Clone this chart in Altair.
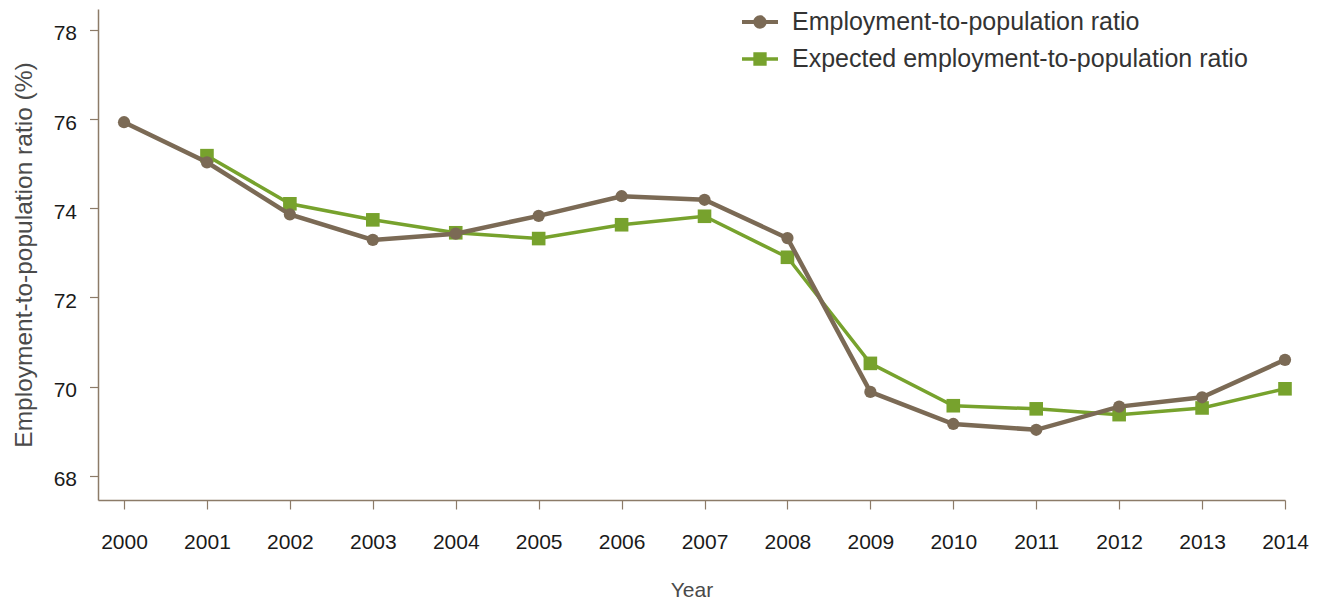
import altair as alt
import pandas as pd

years = list(range(2000, 2015))
employment = [75.93, 75.03, 73.86, 73.29, 73.43, 73.83, 74.27, 74.19, 73.33,
              69.88, 69.16, 69.03, 69.55, 69.76, 70.60]
expected = [None, 75.18, 74.10, 73.74, 73.45, 73.32, 73.63, 73.82, 72.90,
            70.52, 69.57, 69.50, 69.37, 69.52, 69.95]
series_names = ["Employment-to-population ratio",
                "Expected employment-to-population ratio"]
y_ticks = [68, 70, 72, 74, 76, 78]

BROWN = "#7B6A55"
GREEN = "#77A22D"
AXIS = "#8C7B68"
FONT = "Liberation Sans"

rows = []
for y, e, x in zip(years, employment, expected):
    rows.append({"year": y, "series": series_names[0], "value": e})
    if x is not None:
        rows.append({"year": y, "series": series_names[1], "value": x})
df = pd.DataFrame(rows)

x_enc = alt.X(
    "year:Q",
    scale=alt.Scale(domain=[1999.686, 2014], nice=False, zero=False),
    axis=alt.Axis(
        values=years, format="d", grid=False,
        tickSize=9, tickWidth=1.2, tickColor=AXIS,
        domainColor=AXIS, domainWidth=1.5,
        labelFont=FONT, labelFontSize=21, labelColor="#1a1a1a",
        labelPadding=22, labelFlush=False, labelOverlap=False, labelBound=False,
        title="Year", titleFont=FONT, titleFontSize=21, titleFontWeight="normal",
        titleColor="#4a4a4a", titleX=593.5, titleY=96.7,
        titleBaseline="alphabetic", titleAlign="center",
    ),
)
y_enc = alt.Y(
    "value:Q",
    scale=alt.Scale(domain=[67.455, 78.47], nice=False, zero=False),
    axis=alt.Axis(
        values=y_ticks, format="d", grid=False,
        tickSize=8.5, tickWidth=1.2, tickColor=AXIS,
        domainColor=AXIS, domainWidth=1.5,
        labelFont=FONT, labelFontSize=21, labelColor="#1a1a1a",
        labelPadding=13, labelOffset=4,
        title="Employment-to-population ratio (%)", titleFont=FONT,
        titleFontSize=24.5, titleFontWeight="normal", titleColor="#4a4a4a",
        titleAngle=270, titleX=-66.3, titleY=245.5,
        titleBaseline="alphabetic", titleAlign="center",
    ),
)

base = alt.Chart(df)

green_line = base.transform_filter(
    alt.datum.series == series_names[1]
).mark_line(color=GREEN, strokeWidth=3.5).encode(x=x_enc, y=y_enc)
green_pts = base.transform_filter(
    alt.datum.series == series_names[1]
).mark_point(shape="square", filled=True, color=GREEN, size=185, opacity=1).encode(x=x_enc, y=y_enc)
brown_line = base.transform_filter(
    alt.datum.series == series_names[0]
).mark_line(color=BROWN, strokeWidth=4.5).encode(x=x_enc, y=y_enc)
brown_pts = base.transform_filter(
    alt.datum.series == series_names[0]
).mark_point(shape="circle", filled=True, color=BROWN, size=150, opacity=1).encode(x=x_enc, y=y_enc)

circle_path = ("M-1,-0.11H1V0.11H-1Z "
               "M-0.37,0A0.37,0.37 0 1,1 0.37,0A0.37,0.37 0 1,1 -0.37,0Z")
square_path = "M-1,-0.1H1V0.1H-1Z M-0.37,-0.37H0.37V0.37H-0.37Z"

leg = alt.Legend(
    orient="none", legendX=644, legendY=-5, title=None,
    symbolSize=1296, symbolStrokeWidth=0, symbolOpacity=1,
    labelFont=FONT, labelFontSize=25, labelColor="#333333",
    labelOffset=14, labelLimit=800, rowPadding=6, padding=0,
)
legend_layer = base.transform_filter("false").mark_point(
    filled=True, opacity=1
).encode(
    color=alt.Color("series:N", scale=alt.Scale(domain=series_names, range=[BROWN, GREEN]), legend=leg),
    shape=alt.Shape("series:N", scale=alt.Scale(domain=series_names, range=[circle_path, square_path]), legend=leg),
)

chart = alt.layer(green_line, green_pts, brown_line, brown_pts, legend_layer).properties(
    width=1187, height=491,
    padding={"left": 90, "top": 1, "right": 27, "bottom": 100},
    autosize="none",
    background="white",
).configure_view(stroke=None)

chart.save("out.html", embed_options={"renderer": "svg", "actions": False})
